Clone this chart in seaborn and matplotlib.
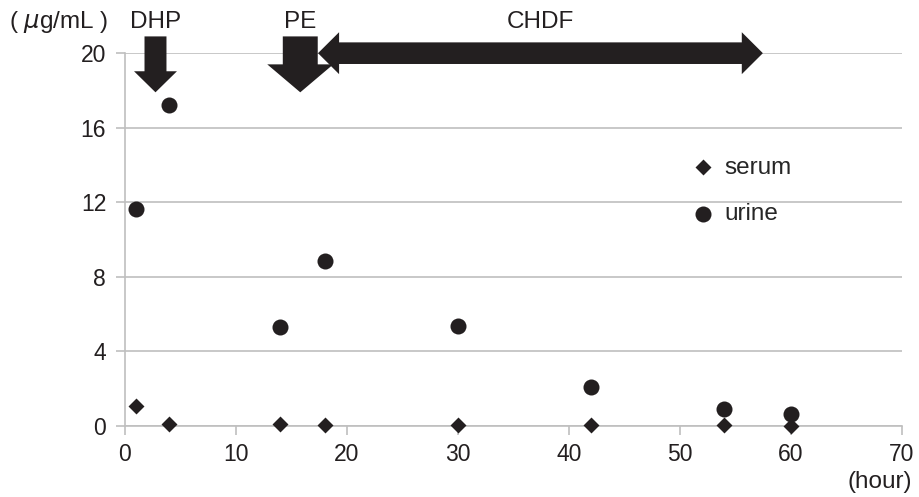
import numpy as np
import pandas as pd
import seaborn as sns
import matplotlib.pyplot as plt
from matplotlib.patches import FancyArrow, Polygon

# ----------------- Data -----------------
hours = [1, 4, 14, 18, 30, 42, 54, 60]
serum = [1.07, 0.12, 0.12, 0.05, 0.03, 0.03, 0.03, 0.02]
urine = [11.65, 17.2, 5.3, 8.85, 5.35, 2.08, 0.92, 0.66]

x_ticks = [0, 10, 20, 30, 40, 50, 60, 70]
y_ticks = [0, 4, 8, 12, 16, 20]

# treatment arrows (hour positions)
dhp_at = 2.75
pe_at = 15.8
chdf_span = [17.4, 57.5]
label_y = 21.36  # baseline of the labels above the plot

INK = "#231f20"
GRID = "#bfbfbf"

# ----------------- Style -----------------
sns.set_theme(style="white")
plt.rcParams["font.family"] = ["Liberation Sans", "DejaVu Sans"]
plt.rcParams["axes.unicode_minus"] = False
FS = 17.5
TICK_FS = 16.5

df_serum = pd.DataFrame({"hour": hours, "value": serum})
df_urine = pd.DataFrame({"hour": hours, "value": urine})

fig = plt.figure(figsize=(9.19, 4.97), dpi=100)
ax = fig.add_axes([0.136, 0.143, 0.845, 0.750])

sns.scatterplot(data=df_serum, x="hour", y="value", marker="D", s=66,
                color=INK, edgecolor=INK, linewidth=0, label="serum", ax=ax,
                zorder=3, clip_on=False)
sns.scatterplot(data=df_urine, x="hour", y="value", marker="o", s=133,
                color=INK, edgecolor=INK, linewidth=0, label="urine", ax=ax,
                zorder=3, clip_on=False)

ax.set_xlim(0, 70)
ax.set_ylim(0, 20)
ax.set_xticks(x_ticks)
ax.set_yticks(y_ticks)
ax.set_xlabel("")
ax.set_ylabel("")

for s in ["top", "right"]:
    ax.spines[s].set_visible(False)
for s in ["left", "bottom"]:
    ax.spines[s].set_color(GRID)
    ax.spines[s].set_linewidth(1.2)

ax.yaxis.grid(True, color=GRID, linewidth=1.2)
ax.set_axisbelow(True)
ax.tick_params(axis="x", length=6.5, width=1.2, color=GRID, pad=6,
               labelsize=TICK_FS, labelcolor=INK, direction="out", bottom=True)
ax.tick_params(axis="y", length=6.5, width=1.2, color=GRID, pad=7,
               labelsize=TICK_FS, labelcolor=INK, direction="out", left=True)

# ----------------- Legend -----------------
ax.legend(loc="upper left", bbox_to_anchor=(0.716, 0.748), frameon=False,
          fontsize=FS, labelspacing=1.0, handletextpad=0.4,
          handlelength=1.0, borderaxespad=0)

# ----------------- Treatment arrows -----------------
ax.add_patch(FancyArrow(dhp_at, 20.9, 0, -3.0, width=1.98, head_width=3.87,
                        head_length=1.13, length_includes_head=True,
                        color=INK, clip_on=False, zorder=4, linewidth=0))
ax.add_patch(FancyArrow(pe_at, 20.9, 0, -3.0, width=3.15, head_width=5.95,
                        head_length=1.5, length_includes_head=True,
                        color=INK, clip_on=False, zorder=4, linewidth=0))

# double headed CHDF arrow as one shape (no seam in the middle)
left, right = chdf_span
cy, hw, sw, hl = 20.0, 1.125, 0.58, 1.9
shape = [(left, cy), (left + hl, cy + hw), (left + hl, cy + sw),
         (right - hl, cy + sw), (right - hl, cy + hw), (right, cy),
         (right - hl, cy - hw), (right - hl, cy - sw),
         (left + hl, cy - sw), (left + hl, cy - hw)]
ax.add_patch(Polygon(shape, closed=True, facecolor=INK, edgecolor="none",
                     clip_on=False, zorder=4))
mid = (left + right) / 2

ax.text(dhp_at, label_y, "DHP", ha="center", va="baseline", fontsize=FS,
        color=INK, clip_on=False)
ax.text(pe_at, label_y, "PE", ha="center", va="baseline", fontsize=FS,
        color=INK, clip_on=False)
ax.text(mid, label_y, "CHDF", ha="center", va="baseline", fontsize=FS,
        color=INK, clip_on=False)

fig.text(9 / 919, 1 - 28 / 497, r"( $\mu$g/mL )", ha="left", va="baseline",
         fontsize=FS, color=INK)
fig.text(912 / 919, 1 - 488 / 497, "(hour)", ha="right", va="baseline",
         fontsize=FS, color=INK)

fig.savefig("out.png", dpi=100)
